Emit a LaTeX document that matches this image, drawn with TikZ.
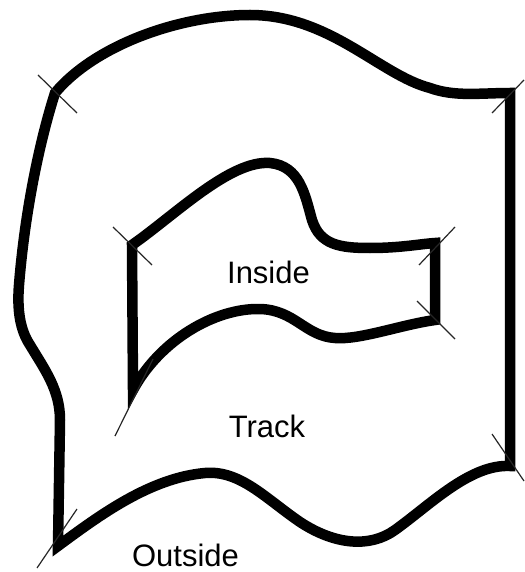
\documentclass[tikz,border=0pt]{standalone}
\usepackage{fontspec}
\setmainfont{Liberation Sans}
\begin{document}
\begin{tikzpicture}[x=1pt,y=-1pt,
  track/.style={line width=10.5pt,line join=miter,line cap=butt},
  tick/.style={line width=1.2pt,color=black!85},
  lbl/.style={font=\fontsize{31}{36}\selectfont,anchor=base,inner sep=0pt}]
\useasboundingbox (0,0) rectangle (524,572);
% outer boundary
\draw[track]
  (55,93) .. controls (95,45) and (180,15) .. (250,15)
  .. controls (330,15) and (380,75) .. (430,88)
  .. controls (455,97) and (480,93) .. (510,93)
  -- (510,466)
  .. controls (470,464) and (430,505) .. (395,530)
  .. controls (370,548) and (335,545) .. (300,522)
  .. controls (265,498) and (240,470) .. (205,473)
  .. controls (150,478) and (100,515) .. (58,546)
  -- (60,420)
  .. controls (60,390) and (45,370) .. (30,345)
  .. controls (20,330) and (17,310) .. (19,285)
  .. controls (25,210) and (40,140) .. (55,93)
  -- cycle;
% inner boundary
\draw[track]
  (132,245) .. controls (175,215) and (230,160) .. (270,163)
  .. controls (300,166) and (305,195) .. (312,220)
  .. controls (320,245) and (340,248) .. (370,248)
  .. controls (400,248) and (420,244) .. (435,243)
  -- (435,320)
  .. controls (400,325) and (360,340) .. (335,338)
  .. controls (305,336) and (295,310) .. (260,309)
  .. controls (215,308) and (160,340) .. (133,390)
  -- cycle;
% corner ticks
\coordinate (a1) at (38,75);   \coordinate (a2) at (77,113);
\coordinate (b1) at (492,113); \coordinate (b2) at (524,80);
\coordinate (c1) at (492,434); \coordinate (c2) at (524,481);
\coordinate (d1) at (37,568);  \coordinate (d2) at (77,509);
\coordinate (e1) at (113,227); \coordinate (e2) at (152,265);
\coordinate (f1) at (419,265); \coordinate (f2) at (455,227);
\coordinate (g1) at (417,301); \coordinate (g2) at (455,339);
\coordinate (h1) at (115,436); \coordinate (h2) at (153,359);
\draw[tick] (a1) -- (a2);
\draw[tick] (b1) -- (b2);
\draw[tick] (c1) -- (c2);
\draw[tick] (d1) -- (d2);
\draw[tick] (e1) -- (e2);
\draw[tick] (f1) -- (f2);
\draw[tick] (g1) -- (g2);
\draw[tick] (h1) -- (h2);
% labels
\node[lbl] (inside) at (268.5,283) {Inside};
\node[lbl] (trk) at (267,437) {Track};
\node[lbl] (outside) at (185.5,566) {Outside};
\end{tikzpicture}
\end{document}
